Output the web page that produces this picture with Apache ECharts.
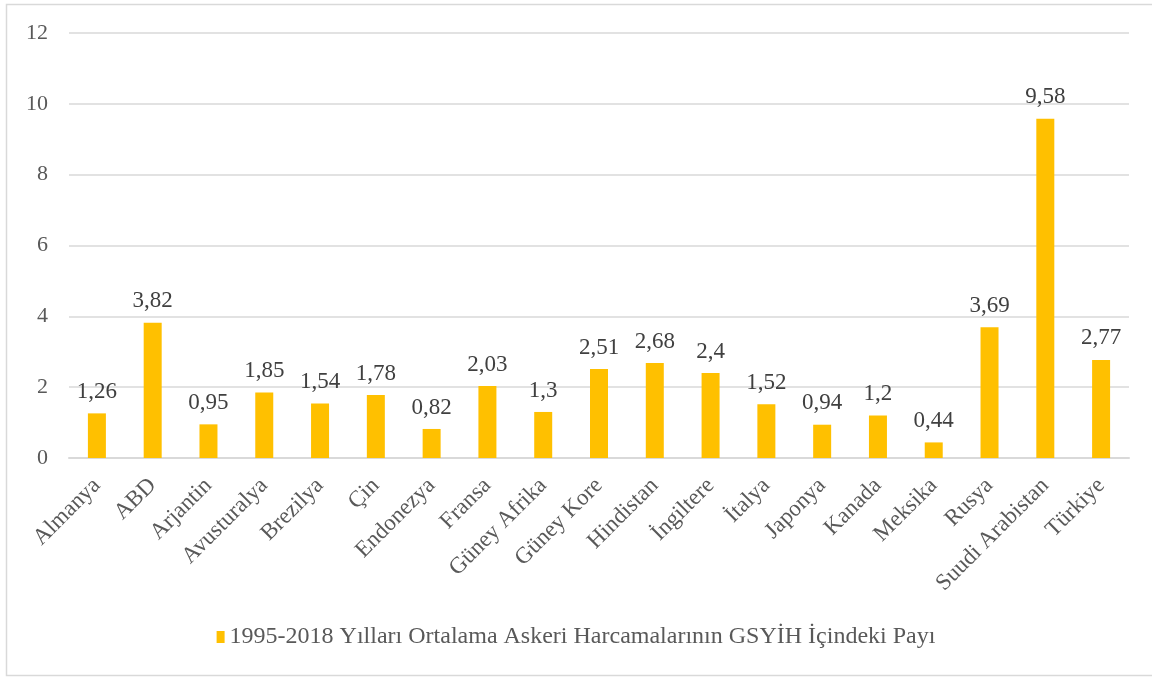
<!DOCTYPE html>
<html>
<head>
<meta charset="utf-8">
<script src="https://cdn.jsdelivr.net/npm/echarts@6/dist/echarts.min.js"></script>
<style>
  html, body { margin: 0; padding: 0; background: #fff; }
  #chart { width: 1152px; height: 678px; }
</style>
</head>
<body>
<div id="chart"></div>
<script>
// ülkeler
const countries = ['Almanya', 'ABD', 'Arjantin', 'Avusturalya', 'Brezilya', 'Çin', 'Endonezya', 'Fransa',
  'Güney Afrika', 'Güney Kore', 'Hindistan', 'İngiltere', 'İtalya', 'Japonya', 'Kanada', 'Meksika',
  'Rusya', 'Suudi Arabistan', 'Türkiye'];
const shares = [1.26, 3.82, 0.95, 1.85, 1.54, 1.78, 0.82, 2.03, 1.3, 2.51, 2.68, 2.4, 1.52, 0.94, 1.2, 0.44,
  3.69, 9.58, 2.77];
const seriesName = '1995-2018 Yılları Ortalama Askeri Harcamalarının GSYİH İçindeki Payı';

const font = "'Liberation Serif', 'Times New Roman', serif";
const textColor = '#595959';

let myChart = echarts.init(document.getElementById('chart'));

myChart.setOption({
  animation: false,
  textStyle: { fontFamily: font },
  graphic: [{
    type: 'rect',
    shape: { x: 6.5, y: 4.5, width: 1160, height: 671 },
    style: { fill: 'none', stroke: '#d9d9d9', lineWidth: 1.5 },
    silent: true
  }],
  grid: { left: 69, right: 23, top: 33, bottom: 220 },
  legend: {
    bottom: 24,
    left: 'center',
    itemWidth: 8,
    itemHeight: 12,
    itemGap: 6,
    icon: 'rect',
    textStyle: { fontFamily: font, fontSize: 24, color: textColor }
  },
  xAxis: {
    type: 'category',
    data: countries,
    axisLine: { lineStyle: { color: '#d9d9d9', width: 2 } },
    axisTick: { show: false },
    axisLabel: {
      rotate: 45, interval: 0, margin: 24,
      fontFamily: font, fontSize: 23, color: textColor
    }
  },
  yAxis: {
    type: 'value',
    min: 0, max: 12, interval: 2,
    axisLine: { show: false },
    axisTick: { show: false },
    splitLine: { lineStyle: { color: '#d9d9d9', width: 1.5 } },
    axisLabel: { margin: 21, fontFamily: font, fontSize: 22, color: textColor }
  },
  series: [{
    name: seriesName,
    type: 'bar',
    data: shares,
    barWidth: 18,
    itemStyle: { color: '#ffc000' },
    label: {
      show: true,
      position: 'top',
      distance: 10,
      fontFamily: font,
      fontSize: 23,
      color: '#404040',
      formatter: p => String(p.value).replace('.', ',')
    }
  }]
});
</script>
</body>
</html>
